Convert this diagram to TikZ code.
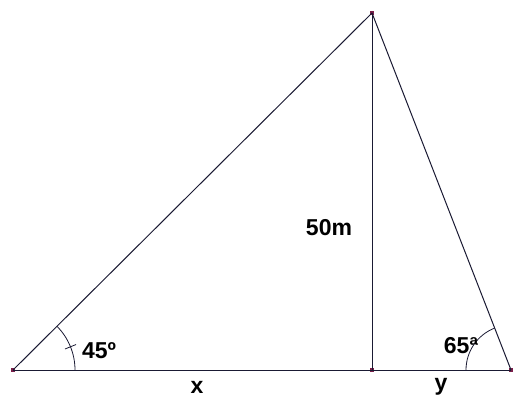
\documentclass[tikz,border=0pt]{standalone}
\usepackage{fontspec}
\setmainfont{Liberation Sans}
\usetikzlibrary{calc}
\definecolor{ln}{HTML}{1A1A33}
\definecolor{dotc}{HTML}{7A1F4A}
\begin{document}
\begin{tikzpicture}[x=1pt,y=1pt,
  edge/.style={draw=ln,line width=1pt},
  vtx/.style={fill=dotc,inner sep=0pt,minimum size=3.5pt,draw=none},
  lbl/.style={font=\fontsize{23}{26}\selectfont\bfseries,inner sep=0pt,text=black}]
\useasboundingbox (0,0) rectangle (513,401);
\node[vtx] (A) at (13,31) {};
\node[vtx] (T) at (372,388) {};
\node[vtx] (F) at (372,31) {};
\node[vtx] (B) at (511,31) {};
\draw[edge] (A.center) -- (T.center);
\draw[edge] (T.center) -- (F.center);
\draw[edge] (T.center) -- (B.center);
\draw[edge] (A.center) -- (B.center);
% angle marks
\draw[ln,line width=0.8pt] (75,31) arc[start angle=0,end angle=44.8,radius=62];
\draw[ln,line width=0.8pt] ($(13,31)+(22:56)$) -- ($(13,31)+(22:68)$);
\draw[ln,line width=0.8pt] (466,31) arc[start angle=180,end angle=111.4,radius=45];
% labels
\node[lbl] (a45) at (99,50) {45º};
\node[lbl] (a65) at (461,55) {65ª};
\node[lbl] (h) at (329,173) {50m};
\node[lbl] (x) at (197,14) {x};
\node[lbl] (y) at (441,14) {y};
\end{tikzpicture}
\end{document}
